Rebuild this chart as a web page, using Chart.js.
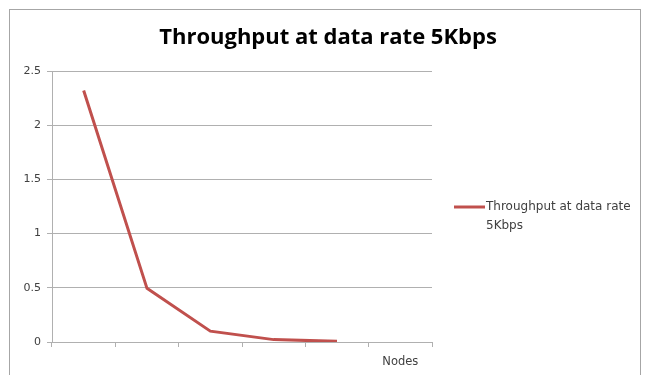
<!DOCTYPE html>
<html>
<head>
<meta charset="utf-8">
<title>Throughput at data rate 5Kbps</title>
<script src="https://cdn.jsdelivr.net/npm/chart.js@4/dist/chart.umd.min.js"></script>
<style>
    html, body { margin: 0; padding: 0; background: #fff; }
    .wrap { position: relative; width: 645px; height: 375px; }
</style>
</head>
<body>
<div class="wrap"><canvas id="throughputChart"></canvas></div>
<script>
(() => {
    'use strict';

    const nodeLabels = ['', '', '', '', '', 'Nodes'];
    const throughput = [2.32, 0.495, 0.1, 0.022, 0.006, null];
    const seriesName = 'Throughput at data rate 5Kbps';
    const titleText = 'Throughput at data rate 5Kbps';

    const red = '#c0504d';
    const grid = '#b0b0b0';
    const text = '#404040';
    const font = { family: '"DejaVu Sans", Verdana, sans-serif', size: 11 };

    // outer frame + title, centred on the whole box (not the plot)
    const framePlugin = {
        id: 'frame',
        beforeDraw(chart) {
            const { ctx } = chart;
            ctx.save();
            ctx.strokeStyle = '#a6a6a6';
            ctx.lineWidth = 1;
            ctx.strokeRect(9.5, 9.5, 631, 400);
            ctx.fillStyle = '#000';
            ctx.font = 'bold 22px "Open Sans", "Noto Sans", sans-serif';
            ctx.textAlign = 'center';
            ctx.textBaseline = 'middle';
            ctx.fillText(titleText, 328, 38);
            ctx.restore();
        }
    };

    // legend on the right with a wrapped label
    const sideLegend = {
        id: 'sideLegend',
        afterDraw(chart) {
            const { ctx, chartArea } = chart;
            const ds = chart.data.datasets[0];
            const x = chartArea.right + 22;
            const y = 207;
            ctx.save();
            ctx.strokeStyle = ds.borderColor;
            ctx.lineWidth = 3;
            ctx.beginPath();
            ctx.moveTo(x, y);
            ctx.lineTo(x + 31, y);
            ctx.stroke();
            ctx.fillStyle = text;
            ctx.font = `12px ${font.family}`;
            ctx.textBaseline = 'middle';
            ctx.fillText('Throughput at data rate', x + 32, y);
            ctx.fillText('5Kbps', x + 32, y + 19);
            ctx.restore();
        }
    };

    new Chart(document.getElementById('throughputChart'), {
        type: 'line',
        data: {
            labels: nodeLabels,
            datasets: [{
                label: seriesName,
                data: throughput,
                borderColor: red,
                backgroundColor: red,
                borderWidth: 3,
                pointRadius: 0,
                tension: 0
            }]
        },
        options: {
            responsive: true,
            maintainAspectRatio: false,
            animation: false,
            layout: { padding: { left: 0, right: 213, top: 71, bottom: 0 } },
            plugins: {
                legend: { display: false },
                tooltip: { enabled: false },
                title: { display: false }
            },
            scales: {
                x: {
                    offset: true,
                    grid: { display: true, drawOnChartArea: false, offset: true, tickLength: 5, color: grid },
                    border: { color: grid },
                    ticks: { color: text, font: { ...font, size: 11.5 }, padding: 8, maxRotation: 0, autoSkip: false },
                    afterFit: s => { s.height = 33; }
                },
                y: {
                    min: 0,
                    max: 2.5,
                    ticks: { stepSize: 0.5, color: text, font, padding: 6, callback: v => String(v) },
                    grid: { color: grid, tickLength: 5 },
                    border: { color: grid },
                    afterFit: s => { s.width = 52; }
                }
            }
        },
        plugins: [framePlugin, sideLegend]
    });
})();
</script>
</body>
</html>
